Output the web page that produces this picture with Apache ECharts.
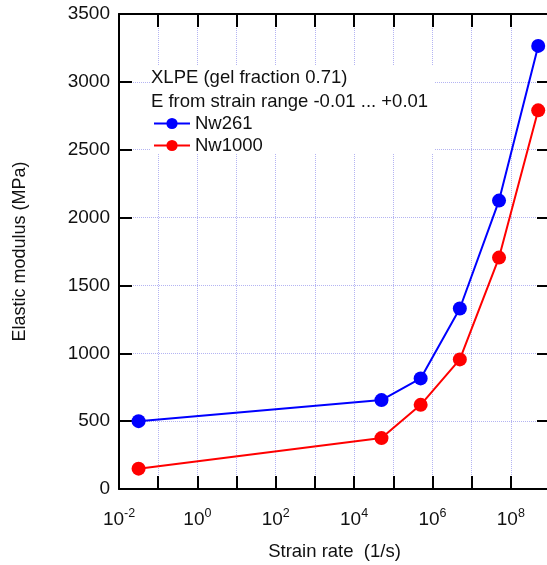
<!DOCTYPE html>
<html>
<head>
<meta charset="utf-8">
<script src="https://cdn.jsdelivr.net/npm/echarts@6/dist/echarts.min.js"></script>
<style>html,body{margin:0;padding:0;background:#fff}#c{width:547px;height:565px}</style>
</head>
<body>
<div id="c"></div>
<script>
var strainRate = [0.0316, 5e4, 5e5, 5e6, 5e7, 5e8];
var nw261 = [500, 655, 815, 1330, 2125, 3265];
var nw1000 = [150, 375, 620, 955, 1705, 2790];
var seriesNames = ['Nw261', 'Nw1000'];
var titleLines = ['XLPE (gel fraction 0.71)', 'E from strain range -0.01 ... +0.01'];
var yTicks = [0, 500, 1000, 1500, 2000, 2500, 3000, 3500];

var FONT = 'Liberation Sans, Arial, sans-serif';
var chart = echarts.init(document.getElementById('c'));

function pairs(xs, ys) { return xs.map(function (x, i) { return [x, ys[i]]; }); }

var gridStyle = { show: true, lineStyle: { color: '#b4b4f2', type: 'dotted', width: 1 } };
var axisLine = { show: true, onZero: false, lineStyle: { color: '#000', width: 2 } };
var tick = { show: true, inside: true, length: 13, lineStyle: { color: '#000', width: 2 } };

var option = {
  animation: false,
  backgroundColor: '#fff',
  grid: { left: 119, top: 14, right: -3, bottom: 76, containLabel: false, outerBoundsMode: 'none' },
  xAxis: [{
    type: 'log', logBase: 10, min: 0.01, max: 1e9, interval: 1,
    position: 'bottom',
    axisLine: axisLine, axisTick: tick, splitLine: gridStyle,
    minorTick: { show: false },
    axisLabel: {
      margin: 18, color: '#111', fontFamily: FONT,
      formatter: function (v) {
        var e = Math.round(Math.log10(v));
        if (e % 2 !== 0) return '';
        return '{b|10}{s|' + e + '}';
      },
      rich: {
        b: { fontSize: 19, fontFamily: FONT, color: '#111', verticalAlign: 'bottom', lineHeight: 22 },
        s: { fontSize: 12.5, fontFamily: FONT, color: '#111', verticalAlign: 'top', lineHeight: 22 }
      }
    },
    name: 'Strain rate  (1/s)', nameLocation: 'middle', nameGap: 53,
    nameTextStyle: { fontSize: 18.5, fontFamily: FONT, color: '#111' }
  }, {
    type: 'log', logBase: 10, min: 0.01, max: 1e9, interval: 1,
    position: 'top',
    axisLine: axisLine, axisTick: tick, splitLine: { show: false },
    axisLabel: { show: false }
  }],
  yAxis: [{
    type: 'value', min: yTicks[0], max: yTicks[yTicks.length - 1], interval: 500,
    position: 'left',
    axisLine: axisLine, axisTick: tick, splitLine: gridStyle,
    axisLabel: { margin: 9, fontSize: 19, fontFamily: FONT, color: '#111', formatter: function (v) { return String(v); } },
    name: 'Elastic modulus (MPa)', nameLocation: 'middle', nameGap: 90,
    nameTextStyle: { fontSize: 18, fontFamily: FONT, color: '#111' }
  }, {
    type: 'value', min: yTicks[0], max: yTicks[yTicks.length - 1], interval: 500,
    position: 'right',
    axisLine: axisLine, axisTick: tick, splitLine: { show: false },
    axisLabel: { show: false }
  }],
  legend: {
    orient: 'vertical', left: 153, top: 114, padding: 0,
    itemWidth: 36, itemHeight: 14, itemGap: 3,
    textStyle: { fontSize: 18.5, fontFamily: FONT, color: '#111' },
    data: seriesNames,
    z: 6
  },
  graphic: [
    { type: 'rect', left: 150, top: 65, shape: { width: 284, height: 88 }, style: { fill: '#fff' }, z: 1, silent: true },
    { type: 'text', left: 151, top: 68, z: 6, style: { text: titleLines[0], fontSize: 18.5, fontFamily: FONT, fill: '#111' } },
    { type: 'text', left: 151, top: 92, z: 6, style: { text: titleLines[1], fontSize: 18.5, fontFamily: FONT, fill: '#111' } }
  ],
  series: [{
    name: seriesNames[0], type: 'line', data: pairs(strainRate, nw261),
    symbol: 'circle', symbolSize: 14, color: '#0000ff',
    lineStyle: { width: 2, color: '#0000ff' }, itemStyle: { color: '#0000ff' }, z: 3
  }, {
    name: seriesNames[1], type: 'line', data: pairs(strainRate, nw1000),
    symbol: 'circle', symbolSize: 14, color: '#ff0000',
    lineStyle: { width: 2, color: '#ff0000' }, itemStyle: { color: '#ff0000' }, z: 3
  }]
};
chart.setOption(option);
</script>
</body>
</html>
